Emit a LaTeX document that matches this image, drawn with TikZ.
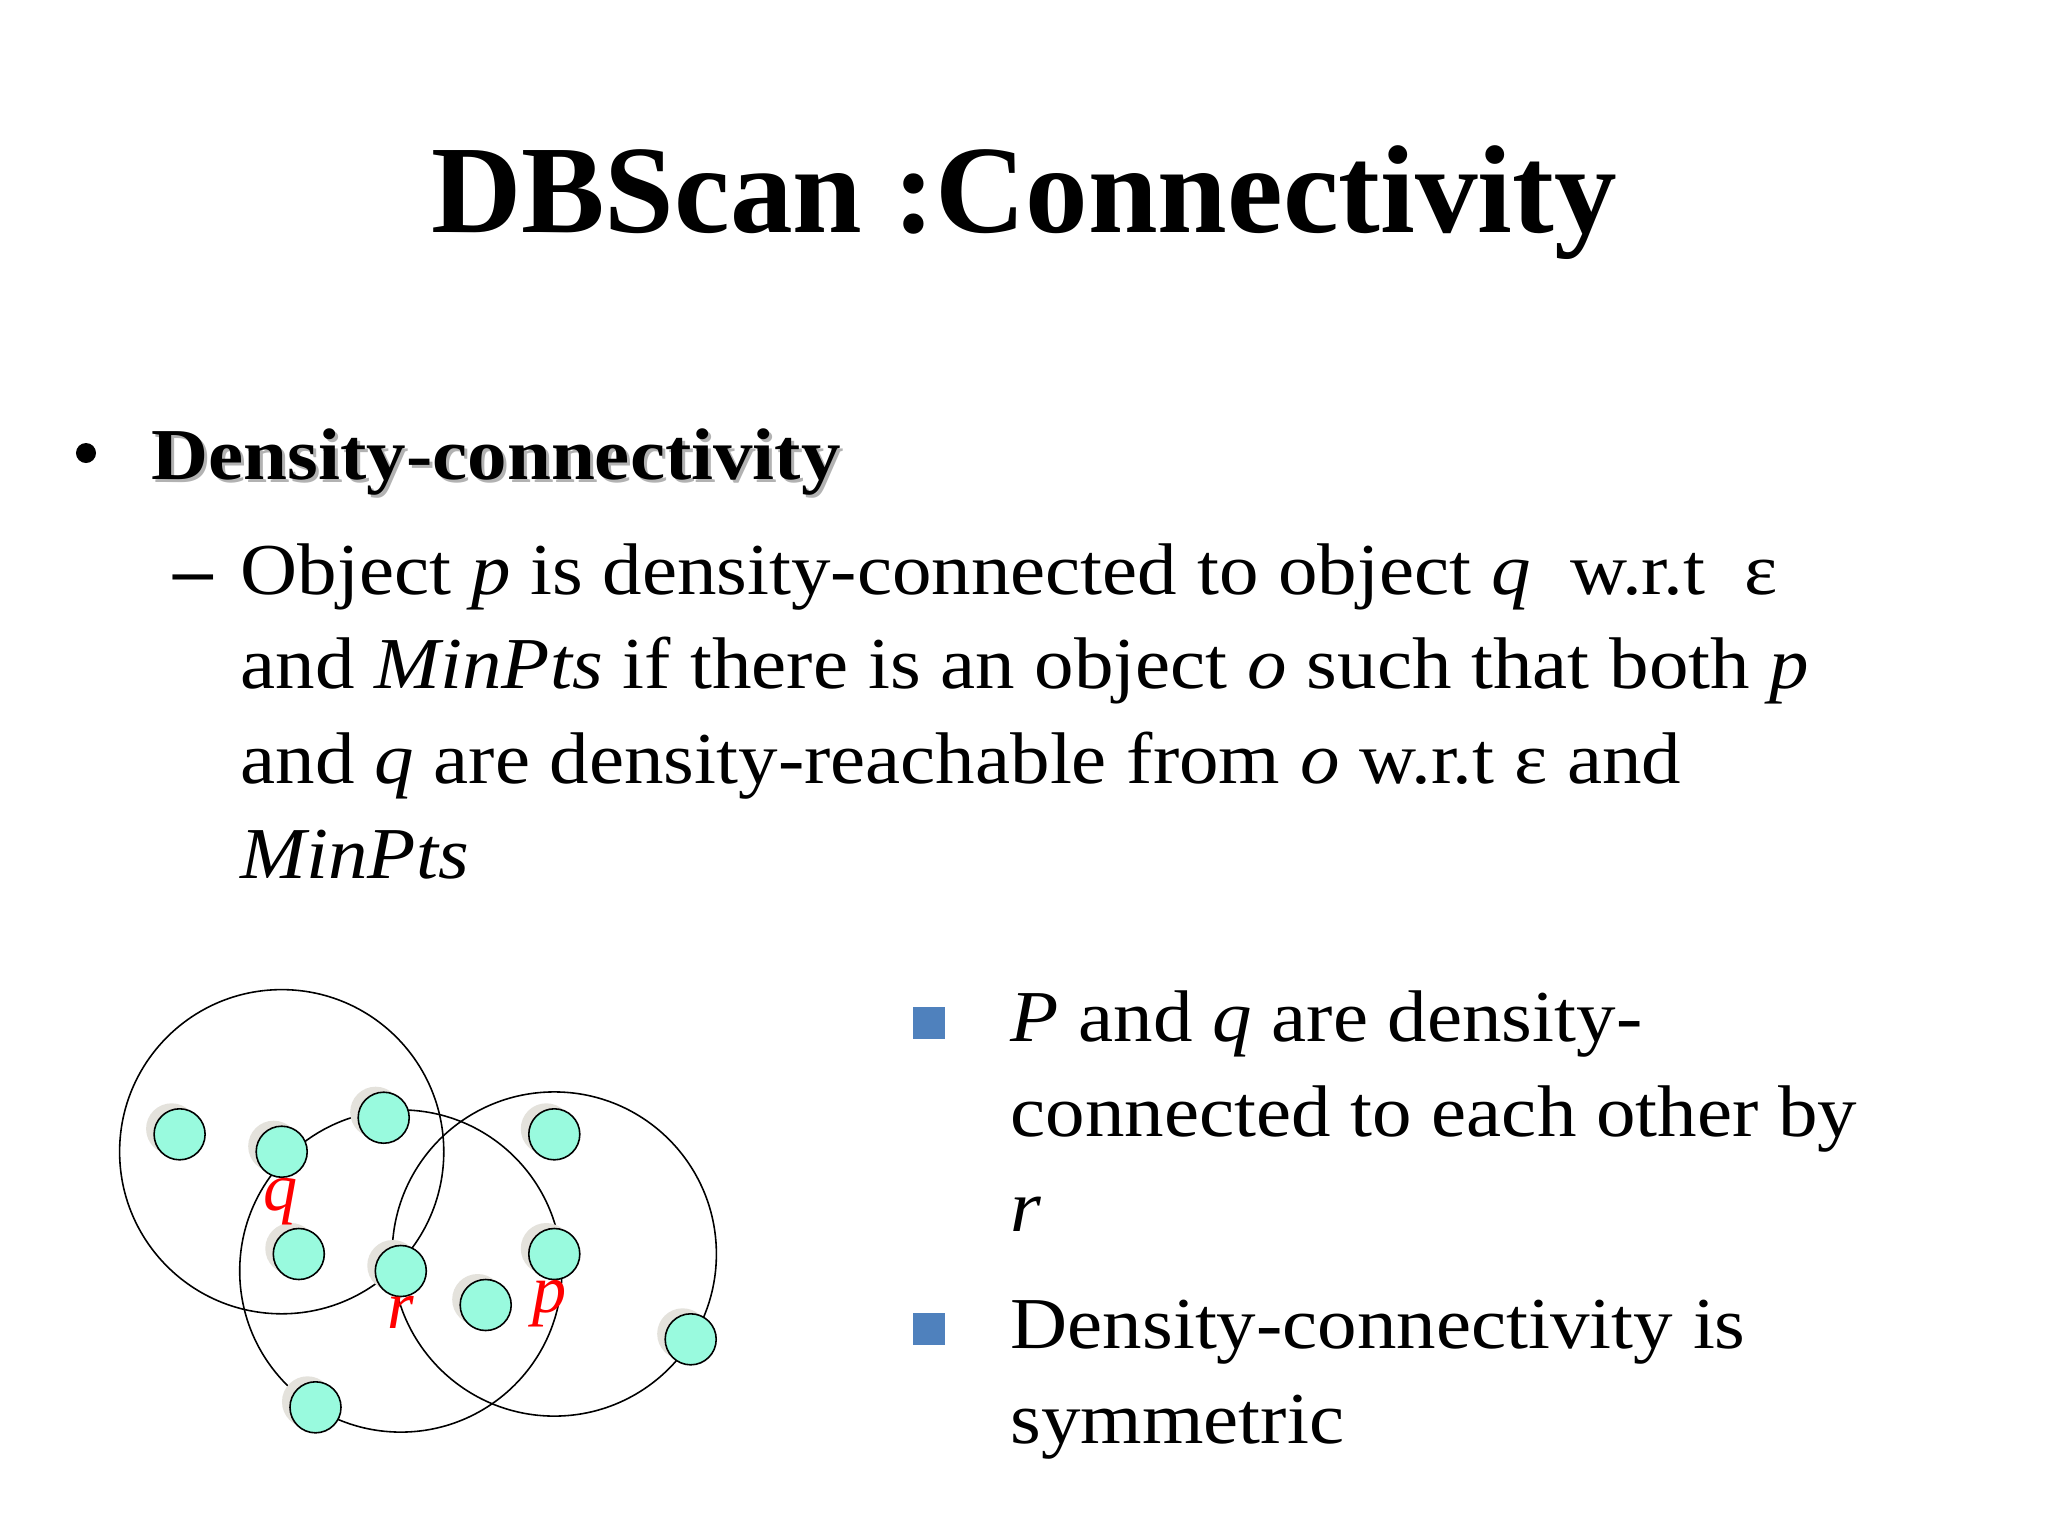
\documentclass[tikz,border=0pt]{standalone}
\usepackage{fontspec}
\setmainfont{Liberation Serif}
\newfontfamily\slidefont{Liberation Serif}[FakeStretch=1.08]
\usepackage{tikz}
\usetikzlibrary{shadows, backgrounds}
\definecolor{ptfill}{RGB}{153,250,222}
\definecolor{ptshadow}{RGB}{228,226,220}
\definecolor{bulletblue}{RGB}{79,129,189}
\tikzset{
  titletext/.style={
    font=\fontsize{35.6pt}{42pt}\selectfont\bfseries,
    inner sep=0pt, anchor=base
  },
  slidetext/.style={
    font=\slidefont\fontsize{20.8pt}{26.9pt}\selectfont,
    inner sep=0pt, anchor=base west, align=left
  },
  headtext/.style={
    slidetext, font=\slidefont\fontsize{20.8pt}{26.9pt}\selectfont\bfseries
  },
  bulletsq/.style={
    rectangle, fill=bulletblue, minimum size=0.32cm, inner sep=0pt
  },
  pt/.style={
    circle, draw, line width=0.45pt, fill=ptfill,
    minimum size=0.51cm, inner sep=0pt,
    drop shadow={shadow xshift=-0.08cm, shadow yshift=0.055cm,
                 fill=ptshadow, opacity=1}
  },
  ptlabel/.style={
    font=\fontsize{19.4pt}{22pt}\selectfont\itshape, text=red,
    inner sep=0pt, anchor=base
  },
  ring/.style={line width=0.45pt},
}

\begin{document}
\begin{tikzpicture}[x=0.01cm, y=-0.01cm]
  \begin{scope}[on background layer]
    \fill[white] (0,0) rectangle (2048,1536);
  \end{scope}
  \useasboundingbox (0,0) rectangle (2048,1536);

  % ── Title ──────────────────────────────────────────────────────
  \node[titletext] (title) at (1024,232) {DBScan :Connectivity};

  % ── Definition (multi-line nodes sit on their last baseline) ──
  \node[circle, fill, minimum size=0.2cm, inner sep=0pt] (bullet) at (86,453) {};
  \node[headtext, text=black!30] (headshadow) at (154,482) {Density-connectivity};
  \node[headtext] (heading) at (151,479) {Density-connectivity};

  \node[headtext] (dash) at (173,594) {–};
  \node[slidetext] (defn) at (240,878) {%
    Object \textit{p} is density-connected to object \textit{q}\ \ w.r.t\ \ ε\\
    and \textit{MinPts} if there is an object \textit{o} such that both \textit{p}\\
    and \textit{q} are density-reachable from \textit{o} w.r.t ε and\\
    \textit{MinPts}};

  % ── Points ─────────────────────────────────────────────────────
  \node[pt] (n1)  at (179.6,1134.3) {};
  \node[pt] (q)   at (281.7,1151.7) {};
  \node[pt] (n3)  at (383.7,1117.7) {};
  \node[pt] (n4)  at (554.3,1134.3) {};
  \node[pt] (n5)  at (298.8,1254) {};
  \node[pt] (r)   at (400.8,1271) {};
  \node[pt] (n7)  at (485.7,1305) {};
  \node[pt] (p)   at (554.3,1254) {};
  \node[pt] (n9)  at (690.7,1339.3) {};
  \node[pt] (n10) at (315.5,1407.3) {};

  % Neighbourhoods
  \begin{scope}[on background layer]
    \draw[ring] (q.center) circle[radius=1.62cm];
    \draw[ring] (r.center) circle[radius=1.61cm];
    \draw[ring] (p.center) circle[radius=1.62cm];
  \end{scope}

  \node[ptlabel] (lq) at (281,1210) {q};
  \node[ptlabel] (lr) at (401,1328) {r};
  \node[ptlabel] (lp) at (550,1312) {p};

  % ── Remarks ────────────────────────────────────────────────────
  \node[bulletsq] (sq1) at (928.5,1023) {};
  \node[slidetext] (item1) at (1010,1231) {%
    \textit{P} and \textit{q} are density-\\
    connected to each other by\\
    \textit{r}};
  \node[bulletsq] (sq2) at (928.5,1329) {};
  \node[slidetext] (item2) at (1010,1443) {%
    Density-connectivity is\\
    symmetric};
\end{tikzpicture}
\end{document}
